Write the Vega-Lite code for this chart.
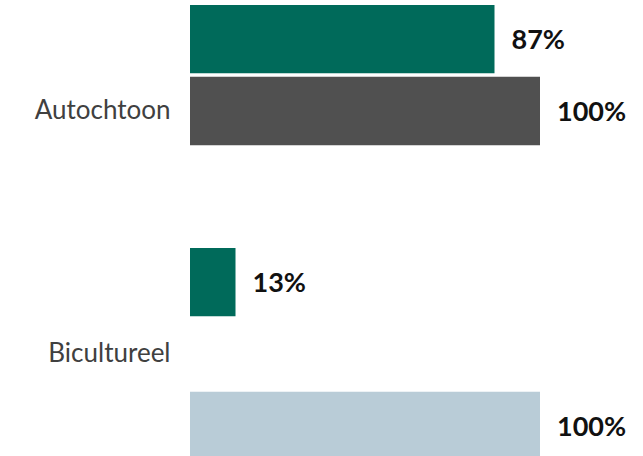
{
  "$schema": "https://vega.github.io/schema/vega-lite/v6.json",
  "width": 350,
  "height": 455,
  "autosize": {"type": "none"},
  "padding": {"left": 190, "top": 5, "right": 103, "bottom": 0},
  "background": "white",
  "config": {"view": {"stroke": null}},
  "data": {
    "values": [
      {"groep": "Autochtoon", "reeks": "Reeks 1", "waarde": 87, "label": "87%"},
      {"groep": "Autochtoon", "reeks": "Reeks 2", "waarde": 100, "label": "100%"},
      {"groep": "Bicultureel", "reeks": "Reeks 1", "waarde": 13, "label": "13%"},
      {"groep": "Bicultureel", "reeks": "Reeks 3", "waarde": 100, "label": "100%"}
    ]
  },
  "encoding": {
    "y": {
      "field": "groep",
      "type": "nominal",
      "sort": ["Autochtoon", "Bicultureel"],
      "scale": {"paddingInner": 0.1276, "paddingOuter": 0},
      "axis": {
        "title": null,
        "ticks": false,
        "domain": false,
        "labelPadding": 20,
        "labelFont": "Lato",
        "labelFontSize": 26,
        "labelColor": "#404040"
      }
    },
    "yOffset": {
      "field": "reeks",
      "type": "nominal",
      "sort": ["Reeks 1", "Reeks 2", "Reeks 3"],
      "scale": {"paddingInner": 0.05, "paddingOuter": 0}
    },
    "x": {
      "field": "waarde",
      "type": "quantitative",
      "scale": {"domain": [0, 100]},
      "axis": null
    }
  },
  "layer": [
    {
      "mark": {"type": "bar"},
      "encoding": {
        "color": {
          "field": "reeks",
          "type": "nominal",
          "scale": {"domain": ["Reeks 1", "Reeks 2", "Reeks 3"], "range": ["#006A5A", "#505050", "#B9CCD7"]},
          "legend": null
        }
      }
    },
    {
      "mark": {"type": "text", "align": "left", "baseline": "middle", "dx": 17, "dy": 2, "fontSize": 27, "fontWeight": "bold", "font": "Lato", "color": "#111111"},
      "encoding": {"text": {"field": "label"}}
    }
  ]
}
